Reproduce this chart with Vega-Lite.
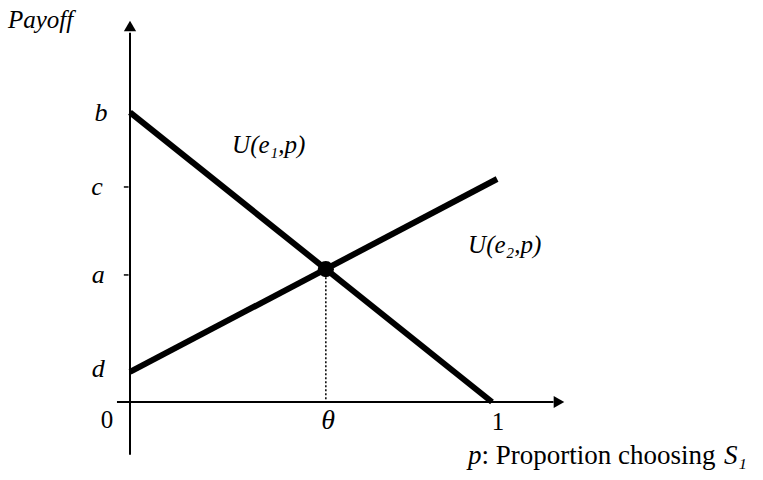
{
  "$schema": "https://vega.github.io/schema/vega-lite/v6.json",
  "width": 763,
  "height": 480,
  "autosize": {"type": "none"},
  "padding": 0,
  "background": "white",
  "config": {"view": {"stroke": null}},
  "datasets": {
    "axes": [
      {"x": -0.036, "y": 0, "x2": 1.17, "y2": 0},
      {"x": 0, "y": -0.146, "x2": 0, "y2": 1.02}
    ],
    "ticks": [
      {"x": -0.017, "x2": -0.004, "y": 0.594},
      {"x": -0.017, "x2": -0.004, "y": 0.351}
    ],
    "lines": [
      {"curve": "e1", "x": 0, "y": 0.80},
      {"curve": "e1", "x": 1, "y": 0},
      {"curve": "e2", "x": 0, "y": 0.083},
      {"curve": "e2", "x": 1.014, "y": 0.616}
    ],
    "eq": [{"x": 0.541, "y": 0.367, "y0": 0}],
    "italic": [
      {"label": "Payoff", "x": -0.337, "y": 1.055},
      {"label": "U(e₁,p)", "x": 0.282, "y": 0.71},
      {"label": "U(e₂,p)", "x": 0.934, "y": 0.434}
    ],
    "titleItalic": [
      {"label": "p", "x": 0.934, "y": -0.15},
      {"label": "S₁", "x": 1.641, "y": -0.15}
    ],
    "ylabels": [
      {"label": "b", "x": -0.08, "y": 0.798},
      {"label": "c", "x": -0.091, "y": 0.594},
      {"label": "a", "x": -0.088, "y": 0.351},
      {"label": "d", "x": -0.088, "y": 0.091}
    ],
    "roman": [
      {"label": "0", "x": -0.0635, "y": -0.05},
      {"label": "1", "x": 1.0166, "y": -0.055}
    ],
    "title": [
      {"label": ": Proportion choosing", "x": 0.971, "y": -0.15}
    ],
    "theta": [{"label": "θ", "x": 0.547, "y": -0.0525}]
  },
  "encoding": {
    "x": {"type": "quantitative", "scale": {"domain": [-0.35912, 1.74862], "nice": false, "zero": false}, "axis": null},
    "y": {"type": "quantitative", "scale": {"domain": [-0.21547, 1.1105], "nice": false, "zero": false}, "axis": null}
  },
  "layer": [
    {
      "data": {"name": "axes"},
      "mark": {"type": "rule", "color": "black", "strokeWidth": 2},
      "encoding": {
        "x": {"field": "x", "type": "quantitative"},
        "y": {"field": "y", "type": "quantitative"},
        "x2": {"field": "x2"},
        "y2": {"field": "y2"}
      }
    },
    {
      "data": {"name": "ticks"},
      "mark": {"type": "rule", "color": "black", "strokeWidth": 1.5},
      "encoding": {
        "x": {"field": "x", "type": "quantitative"},
        "x2": {"field": "x2"},
        "y": {"field": "y", "type": "quantitative"}
      }
    },
    {
      "data": {"values": [{"x": 1.185, "y": 0}]},
      "mark": {"type": "point", "shape": "triangle-right", "filled": true, "color": "black", "size": 150, "opacity": 1},
      "encoding": {
        "x": {"field": "x", "type": "quantitative"},
        "y": {"field": "y", "type": "quantitative"}
      }
    },
    {
      "data": {"values": [{"x": 0, "y": 1.0387}]},
      "mark": {"type": "point", "shape": "triangle-up", "filled": true, "color": "black", "size": 150, "opacity": 1},
      "encoding": {
        "x": {"field": "x", "type": "quantitative"},
        "y": {"field": "y", "type": "quantitative"}
      }
    },
    {
      "data": {"name": "lines"},
      "mark": {"type": "line", "color": "black", "strokeWidth": 6, "strokeCap": "butt"},
      "encoding": {
        "x": {"field": "x", "type": "quantitative"},
        "y": {"field": "y", "type": "quantitative"},
        "detail": {"field": "curve"}
      }
    },
    {
      "data": {"name": "eq"},
      "mark": {"type": "rule", "color": "black", "strokeWidth": 1.5, "strokeDash": [2, 2]},
      "encoding": {
        "x": {"field": "x", "type": "quantitative"},
        "y": {"field": "y", "type": "quantitative"},
        "y2": {"field": "y0"}
      }
    },
    {
      "data": {"name": "eq"},
      "mark": {"type": "point", "shape": "circle", "filled": true, "color": "black", "size": 260, "opacity": 1},
      "encoding": {
        "x": {"field": "x", "type": "quantitative"},
        "y": {"field": "y", "type": "quantitative"}
      }
    },
    {
      "data": {"name": "italic"},
      "mark": {"type": "text", "font": "Liberation Serif", "fontStyle": "italic", "fontSize": 25, "align": "left", "baseline": "middle", "color": "black"},
      "encoding": {
        "x": {"field": "x", "type": "quantitative"},
        "y": {"field": "y", "type": "quantitative"},
        "text": {"field": "label"}
      }
    },
    {
      "data": {"name": "titleItalic"},
      "mark": {"type": "text", "font": "Liberation Serif", "fontStyle": "italic", "fontSize": 27, "align": "left", "baseline": "middle", "color": "black"},
      "encoding": {
        "x": {"field": "x", "type": "quantitative"},
        "y": {"field": "y", "type": "quantitative"},
        "text": {"field": "label"}
      }
    },
    {
      "data": {"name": "ylabels"},
      "mark": {"type": "text", "font": "Liberation Serif", "fontStyle": "italic", "fontSize": 26, "align": "center", "baseline": "middle", "color": "black"},
      "encoding": {
        "x": {"field": "x", "type": "quantitative"},
        "y": {"field": "y", "type": "quantitative"},
        "text": {"field": "label"}
      }
    },
    {
      "data": {"name": "roman"},
      "mark": {"type": "text", "font": "Liberation Serif", "fontSize": 25, "align": "center", "baseline": "middle", "color": "black"},
      "encoding": {
        "x": {"field": "x", "type": "quantitative"},
        "y": {"field": "y", "type": "quantitative"},
        "text": {"field": "label"}
      }
    },
    {
      "data": {"name": "title"},
      "mark": {"type": "text", "font": "Liberation Serif", "fontSize": 27, "align": "left", "baseline": "middle", "color": "black"},
      "encoding": {
        "x": {"field": "x", "type": "quantitative"},
        "y": {"field": "y", "type": "quantitative"},
        "text": {"field": "label"}
      }
    },
    {
      "data": {"name": "theta"},
      "mark": {"type": "text", "font": "Liberation Serif", "fontStyle": "italic", "fontSize": 28, "align": "center", "baseline": "middle", "color": "black"},
      "encoding": {
        "x": {"field": "x", "type": "quantitative"},
        "y": {"field": "y", "type": "quantitative"},
        "text": {"field": "label"}
      }
    }
  ]
}
